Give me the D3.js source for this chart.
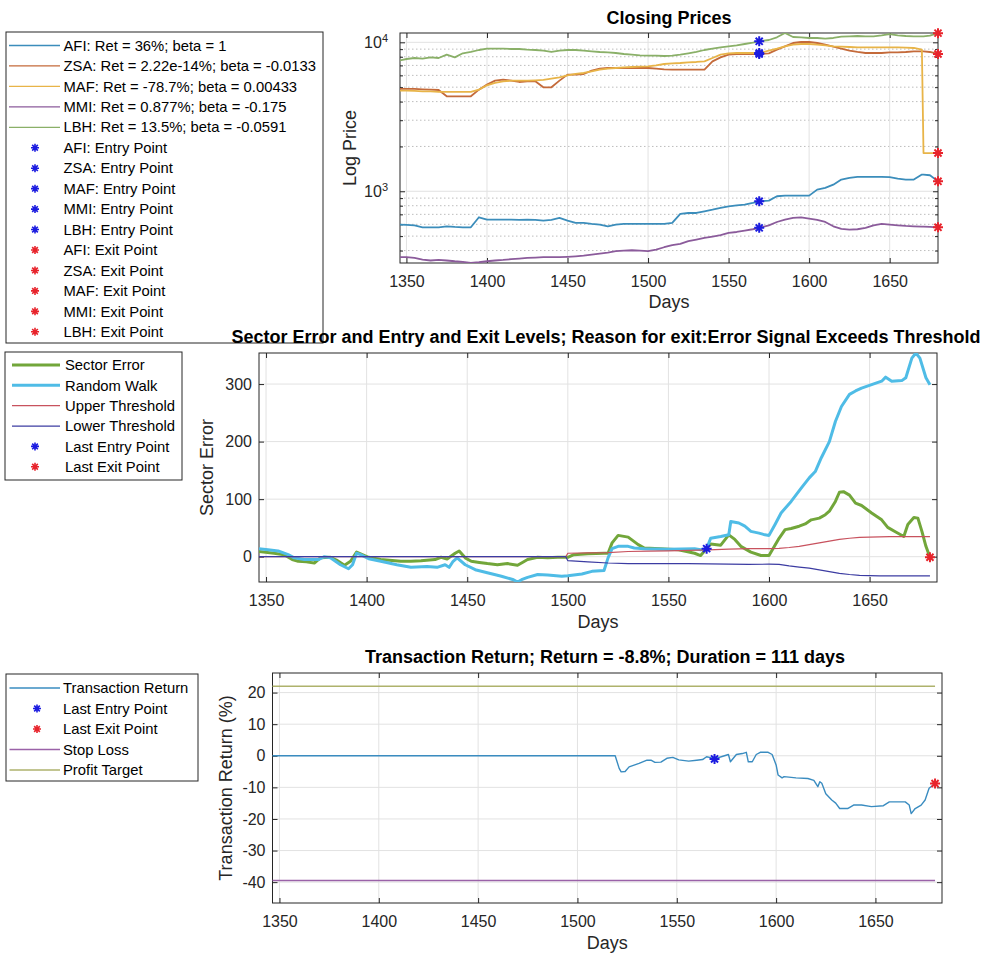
<!DOCTYPE html>
<html>
<head>
<meta charset="utf-8">
<title>Sector trade monitor</title>
<script src="https://cdn.jsdelivr.net/npm/d3@7/dist/d3.min.js"></script>
<style>
  html, body { margin: 0; padding: 0; background: #fff; }
  svg { display: block; }
</style>
</head>
<body>
<script>
// ---------- Closing prices (log scale) ----------
const priceDays = [1346,1350,1355,1360,1365,1370,1375,1380,1385,1390,
  1395,1400,1405,1410,1415,1420,1425,1430,1435,1440,
  1445,1450,1455,1460,1465,1470,1475,1480,1485,1490,
  1495,1500,1505,1510,1515,1520,1525,1530,1535,1540,
  1545,1550,1555,1560,1565,1569,1575,1580,1585,1590,
  1595,1600,1605,1610,1615,1620,1625,1630,1635,1640,
  1645,1650,1655,1660,1665,1670,1671,1675,1680];
const afiPrice = [597,594,591,573,573,573,582,576,573,573,
  669,645,645,645,645,642,645,642,636,642,
  662,636,613,613,604,597,582,597,604,604,
  604,604,604,604,613,705,715,715,734,752,
  773,793,805,813,835,857,866,926,935,935,
  935,935,1026,1053,1108,1198,1229,1248,1248,1248,
  1248,1243,1216,1198,1198,1294,1294,1281,1166];
const zsaPrice = [4862,4862,4862,4837,4812,4787,4341,4341,4341,4341,
  4812,5199,5530,5617,5530,5417,5473,5473,4989,4989,
  5530,6067,6067,6130,6454,6657,6726,6726,6726,6726,
  6726,6726,6657,6589,6555,6555,6555,6555,6555,7454,
  7930,8264,8350,8350,8350,8350,8437,8928,9401,9897,
  10051,10051,9897,9645,9352,9068,8793,8613,8480,8480,
  8480,8569,8569,8613,8702,8702,8702,8613,8350];
const mafPrice = [4738,4738,4714,4690,4690,4642,4642,4642,4642,4642,
  4812,5145,5335,5473,5530,5530,5530,5559,5588,5706,
  5822,6003,6130,6225,6388,6555,6657,6726,6795,6830,
  6865,6901,7005,7154,7228,7265,7341,7380,7454,7849,
  8264,8437,8480,8480,8480,8480,8793,9068,9401,9645,
  9745,9745,9645,9547,9401,9352,9305,9257,9257,9257,
  9257,9257,9257,9210,9162,8928,1806,1806,1806];
const mmiPrice = [361,361,357,348,343,346,343,339,336,330,
  334,339,343,346,350,353,357,359,361,361,
  361,363,366,370,376,382,388,396,400,402,
  400,396,406,421,435,443,463,474,486,496,
  507,525,533,545,556,568,591,622,645,662,
  669,655,642,622,582,559,553,556,568,591,
  604,597,591,585,582,579,579,576,573];
const lbhPrice = [7570,7728,7849,7768,7930,7849,8264,7930,8437,8613,
  8881,9068,9068,9068,9021,9021,8928,8881,8793,8613,
  8793,8881,8881,8793,8702,8613,8569,8480,8350,8264,
  8180,8137,8137,8096,8137,8264,8437,8613,8881,9068,
  9257,9401,9547,9745,9949,10156,10368,10804,11550,10860,
  10804,10693,10693,10583,10693,10916,10973,11030,10973,10973,
  11143,11370,11143,11030,10973,10973,10973,11087,11527];
const stockNames = ['AFI', 'ZSA', 'MAF', 'MMI', 'LBH'];
const stockStats = ['Ret = 36%; beta = 1', 'Ret = 2.22e-14%; beta = -0.0133',
  'Ret = -78.7%; beta = 0.00433', 'Ret = 0.877%; beta = -0.175', 'Ret = 13.5%; beta = -0.0591'];
const stockColors = ['#3b8dbb', '#c46a3a', '#e8b448', '#8b5b9b', '#8ab068'];
const entryDay = 1569;
const exitDay = 1680;

// ---------- Sector error, random walk and thresholds ----------
const errDays = [1346,1354,1359,1363,1366,1370,1374,1377,1382,1385,
  1389,1392,1395,1401,1407,1417,1422,1427,1434,1437,
  1440,1444,1446,1449,1452,1456,1460,1465,1470,1475,
  1477,1480,1485,1490,1495,1500,1503,1510,1518,1520,
  1522,1525,1530,1535,1538,1546,1555,1563,1566,1569,
  1571,1576,1580,1583,1586,1591,1596,1600,1605,1608,
  1611,1615,1618,1621,1625,1628,1630,1633,1635,1637,
  1640,1643,1646,1651,1656,1659,1663,1667,1669,1672,
  1674,1676,1678,1680];
const sectorError = [9,6,3.5,-5,-8,-9,-11,-2,-1,-6,
  -15,-8,8,-1,-5,-8,-8,-7,-5,-1,
  -4,6,10,-2,-8,-10,-12,-14,-12,-15,
  -11,-5,-1,-2,-1,-1,3.5,5,6,6,
  24,37,34,21,15,14,12,6,2,14,
  22,20,38,30,18,8,2,2,32,47,
  49,53,57,64,67,73,79,96,112,113,
  107,93,89,76,64,51,43,35,56,68,
  67,44,18,-1];
const walkDays = [1346,1351,1356,1361,1364,1369,1376,1379,1382,1387,
  1391,1393,1395,1397,1401,1407,1415,1422,1430,1435,
  1439,1441,1443,1445,1449,1454,1460,1467,1473,1475,
  1477,1480,1485,1490,1497,1500,1507,1512,1518,1520,
  1522,1525,1530,1533,1538,1550,1563,1566,1569,1571,
  1576,1580,1581,1585,1588,1591,1595,1598,1600,1603,
  1606,1611,1616,1620,1623,1626,1630,1633,1636,1640,
  1643,1646,1651,1656,1658,1661,1666,1668,1671,1673,
  1675,1678,1680];
const randomWalk = [14,12,10,3.5,-2,-5,-5,0,-2,-14,
  -21,-14,6,3.5,-3.5,-8,-14,-18.5,-17,-18.5,
  -14,-18.5,-8,-2,-14,-22.6,-28,-34,-40,-44,
  -40,-36,-31,-32,-34,-33,-30,-25.5,-24,-2,
  14,18,18,15,14,13,14,12,14,32,
  35,38,61,58.5,53,44,41,38,37,56,
  76,96,119,137,148,172,200,235,261,282,
  288,293,299,305,312,305,306,311,345,354,
  345,311,299];
const thrDays = [1346,1499,1500,1510,1520,1530,1540,1550,1560,1570,
  1580,1590,1600,1605,1610,1615,1620,1625,1630,1635,
  1640,1645,1650,1655,1660,1670,1680];
const upperThreshold = [0,0,6,6.5,7,9,9.5,10,11,12,
  13,14,14,14.5,16,18,21,24,27,30,
  32,33.5,34,34.5,35,35,35];
const lowerThreshold = [0,0,-7,-9,-11,-12,-12,-12,-12,-12.5,
  -13,-13.5,-13,-13.5,-16,-18,-20,-23,-26,-29,
  -31,-32.5,-33,-33.5,-33.5,-33.5,-33.5];

// ---------- Transaction return ----------
const retDays = [1346,1519,1521,1522,1524,1526,1531,1535,1537,1539,
  1542,1545,1548,1551,1556,1560,1563,1565,1567,1569,
  1574,1576,1577,1580,1583,1585,1586,1588,1590,1592,
  1596,1598,1600,1601,1603,1604,1610,1616,1619,1621,
  1622,1623,1625,1628,1630,1632,1636,1639,1643,1648,
  1654,1657,1665,1667,1668,1670,1673,1675,1677,1680];
const txReturn = [0,0,-4,-5.1,-5,-3.5,-2.4,-1.4,-1.4,-2.1,
  -2,-0.8,-0.5,-1.3,-1.7,-1.4,-1.2,-0.3,-0.6,-1.0,
  0,0.4,-1.9,0.4,0.7,1.1,-1.9,-1.9,0.4,1.1,
  1.1,0.4,-2.9,-6.1,-7,-6.6,-7,-7.2,-7.8,-9.8,
  -8.2,-8.7,-12,-14,-15,-16.7,-16.7,-15.6,-15.6,-16.1,
  -15.8,-14.6,-14.6,-15.6,-18.3,-16.7,-15.6,-14,-10.3,-8.8];
const stopLoss = -39.5;
const profitTarget = 22;
const returnLimits = [-46.6, 26.2];

// ---------- Tick labels ----------
const dayTicks = [1350, 1400, 1450, 1500, 1550, 1600, 1650];
const errTicks = [0, 100, 200, 300];
const retTicks = [-40, -30, -20, -10, 0, 10, 20];
const priceDecades = [1000, 10000];

// ---------- Styling ----------
const FONT = '"Liberation Sans", Arial, Helvetica, sans-serif';
const INK = '#262626';
const GRID = '#e2e2e2';
const BLUE_STAR = '#1c1ce0';
const RED_STAR = '#e8242c';

const svg = d3.select('body').append('svg')
  .attr('width', 983).attr('height', 956)
  .attr('font-family', FONT);

// MATLAB-style asterisk marker: a plus and a cross
function starPath(r) {
  const d = r * Math.SQRT1_2;
  return `M${-r},0H${r}M0,${-r}V${r}M${-d},${-d}L${d},${d}M${-d},${d}L${d},${-d}`;
}

function valueAt(days, vals, day) {
  return vals[days.indexOf(day)];
}

let clipCount = 0;

// grid, ticks on all four sides, labels and the frame of one axes
function drawAxes(x, y, xTicks, yTicks, opts) {
  const g = svg.append('g');
  const [xa, xb] = x.range();
  const [yb, ya] = y.range();

  if (opts.minorY) {
    g.append('g').selectAll('line').data(opts.minorY).join('line')
      .attr('x1', xa).attr('x2', xb)
      .attr('y1', d => y(d)).attr('y2', d => y(d))
      .attr('stroke', '#bdbdbd').attr('stroke-width', 1)
      .attr('stroke-dasharray', '1.5,2.5');
  }
  g.append('g').selectAll('line').data(xTicks).join('line')
    .attr('x1', d => x(d)).attr('x2', d => x(d))
    .attr('y1', ya).attr('y2', yb)
    .attr('stroke', GRID).attr('stroke-width', 1);
  g.append('g').selectAll('line').data(yTicks).join('line')
    .attr('x1', xa).attr('x2', xb)
    .attr('y1', d => y(d)).attr('y2', d => y(d))
    .attr('stroke', GRID).attr('stroke-width', 1);

  const fmt = opts.yFormat || (d => String(d));
  const axes = [
    g.append('g').attr('transform', `translate(0,${yb})`)
      .call(d3.axisBottom(x).tickValues(xTicks).tickSize(-5).tickPadding(13).tickFormat(d => String(d))),
    g.append('g').attr('transform', `translate(0,${ya})`)
      .call(d3.axisTop(x).tickValues(xTicks).tickSize(-5).tickFormat('')),
    g.append('g').attr('class', 'yleft').attr('transform', `translate(${xa},0)`)
      .call(d3.axisLeft(y).tickValues(yTicks).tickSize(-5).tickPadding(7).tickFormat(fmt)),
    g.append('g').attr('transform', `translate(${xb},0)`)
      .call(d3.axisRight(y).tickValues(yTicks).tickSize(-5).tickFormat(''))
  ];
  if (opts.minorY) {
    axes.push(g.append('g').attr('transform', `translate(${xa},0)`)
      .call(d3.axisLeft(y).tickValues(opts.minorY).tickSize(-3).tickFormat('')));
    axes.push(g.append('g').attr('transform', `translate(${xb},0)`)
      .call(d3.axisRight(y).tickValues(opts.minorY).tickSize(-3).tickFormat('')));
  }
  axes.forEach(a => {
    a.attr('font-family', FONT).attr('font-size', 16);
    a.select('.domain').remove();
    a.selectAll('line').attr('stroke', INK);
    a.selectAll('text').attr('fill', INK);
  });

  g.append('rect')
    .attr('x', xa).attr('y', ya).attr('width', xb - xa).attr('height', yb - ya)
    .attr('fill', 'none').attr('stroke', INK).attr('stroke-width', 1);

  const id = 'clip' + (clipCount++);
  svg.append('clipPath').attr('id', id).append('rect')
    .attr('x', xa).attr('y', ya).attr('width', xb - xa).attr('height', yb - ya);

  // title and axis labels
  const cx = (xa + xb) / 2;
  svg.append('text').attr('x', opts.titleX || cx).attr('y', opts.titleY)
    .attr('text-anchor', 'middle').attr('font-size', 18).attr('font-weight', 'bold')
    .attr('fill', '#000').text(opts.title);
  svg.append('text').attr('x', cx).attr('y', opts.xLabelY)
    .attr('text-anchor', 'middle').attr('font-size', 18).attr('fill', INK).text('Days');
  svg.append('text')
    .attr('transform', `translate(${opts.yLabelX},${(ya + yb) / 2}) rotate(-90)`)
    .attr('dy', '0.35em').attr('text-anchor', 'middle')
    .attr('font-size', 18).attr('fill', INK).text(opts.yLabel);

  return { g, clip: `url(#${id})` };
}

function drawLine(clip, x, y, days, vals, color, width) {
  svg.append('path')
    .datum(days.map((d, i) => [d, vals[i]]))
    .attr('clip-path', clip)
    .attr('fill', 'none').attr('stroke', color).attr('stroke-width', width)
    .attr('stroke-linejoin', 'round')
    .attr('d', d3.line().x(d => x(d[0])).y(d => y(d[1])));
}

function drawStar(cx, cy, color, r, w) {
  svg.append('path').attr('d', starPath(r))
    .attr('transform', `translate(${cx},${cy})`)
    .attr('fill', 'none').attr('stroke', color).attr('stroke-width', w);
}

function drawLegend(box, rowY, rowStep, items, lineX, textX, starX) {
  const g = svg.append('g');
  g.append('rect').attr('x', box[0]).attr('y', box[1])
    .attr('width', box[2] - box[0]).attr('height', box[3] - box[1])
    .attr('fill', '#fff').attr('stroke', INK).attr('stroke-width', 1);
  items.forEach((it, i) => {
    const cy = rowY + i * rowStep;
    if (it.star) {
      g.append('path').attr('d', starPath(4))
        .attr('transform', `translate(${starX},${cy})`)
        .attr('fill', 'none').attr('stroke', it.color).attr('stroke-width', 1.6);
    } else {
      g.append('line').attr('x1', lineX[0]).attr('x2', lineX[1])
        .attr('y1', cy).attr('y2', cy)
        .attr('stroke', it.color).attr('stroke-width', it.width);
    }
    g.append('text').attr('x', textX).attr('y', cy).attr('dy', '0.35em')
      .attr('font-size', 14.8).attr('fill', '#000').text(it.label);
  });
}

// ================= Panel 1: closing prices =================
const priceSeries = [afiPrice, zsaPrice, mafPrice, mmiPrice, lbhPrice];
const xP = d3.scaleLinear().domain([1346, 1680]).range([400, 938]);
const yP = d3.scaleLog().domain(d3.extent(priceSeries.flat())).range([263, 33]);
const minorPrice = yP.ticks().filter(t => !priceDecades.includes(t));

const p1 = drawAxes(xP, yP, dayTicks, priceDecades, {
  minorY: minorPrice,
  yFormat: () => '10',
  title: 'Closing Prices', titleY: 24,
  xLabelY: 308, yLabel: 'Log Price', yLabelX: 350
});
// decade labels as 10 with a superscript exponent
p1.g.select('.yleft').selectAll('.tick text')
  .attr('x', -12)
  .each(function (d) {
    d3.select(this).append('tspan')
      .attr('dy', '-0.55em').attr('font-size', 11)
      .text(String(Math.round(Math.log10(d))));
  });

priceSeries.forEach((vals, i) => drawLine(p1.clip, xP, yP, priceDays, vals, stockColors[i], 1.8));
priceSeries.forEach(vals => drawStar(xP(entryDay), yP(valueAt(priceDays, vals, entryDay)), BLUE_STAR, 5, 2));
priceSeries.forEach(vals => drawStar(xP(exitDay), yP(valueAt(priceDays, vals, exitDay)), RED_STAR, 5, 2));

drawLegend([6, 32, 323, 343], 45.5, 20.45, [
  ...stockNames.map((s, i) => ({ label: `${s}: ${stockStats[i]}`, color: stockColors[i], width: 1.3 })),
  ...stockNames.map(s => ({ label: `${s}: Entry Point`, color: BLUE_STAR, star: true })),
  ...stockNames.map(s => ({ label: `${s}: Exit Point`, color: RED_STAR, star: true }))
], [9, 60], 63.5, 35);

// ================= Panel 2: sector error =================
const errColors = { se: '#72a63a', rw: '#4fbce6', up: '#c8525e', lo: '#3c3ca2' };
const xE = d3.scaleLinear().domain([1346.5, 1683.5]).range([259, 937]);
const yE = d3.scaleLinear()
  .domain(d3.extent([...sectorError, ...randomWalk, ...upperThreshold, ...lowerThreshold]))
  .range([582, 353]);

const p2 = drawAxes(xE, yE, dayTicks, errTicks, {
  title: 'Sector Error and Entry and Exit Levels; Reason for exit:Error Signal Exceeds Threshold',
  titleX: 606, titleY: 343, xLabelY: 628, yLabel: 'Sector Error', yLabelX: 207
});
drawLine(p2.clip, xE, yE, errDays, sectorError, errColors.se, 3);
drawLine(p2.clip, xE, yE, walkDays, randomWalk, errColors.rw, 3);
drawLine(p2.clip, xE, yE, thrDays, upperThreshold, errColors.up, 1.2);
drawLine(p2.clip, xE, yE, thrDays, lowerThreshold, errColors.lo, 1.2);
drawStar(xE(entryDay), yE(valueAt(errDays, sectorError, entryDay)), BLUE_STAR, 5, 2);
drawStar(xE(exitDay), yE(valueAt(errDays, sectorError, exitDay)), RED_STAR, 5, 2);

drawLegend([5, 352, 182, 480], 365, 20.35, [
  { label: 'Sector Error', color: errColors.se, width: 3 },
  { label: 'Random Walk', color: errColors.rw, width: 3 },
  { label: 'Upper Threshold', color: errColors.up, width: 1.2 },
  { label: 'Lower Threshold', color: errColors.lo, width: 1.2 },
  { label: 'Last Entry Point', color: BLUE_STAR, star: true },
  { label: 'Last Exit Point', color: RED_STAR, star: true }
], [12, 60], 65, 35);

// ================= Panel 3: transaction return =================
const retColors = { tr: '#3a8cc0', sl: '#9a62a8', pt: '#aeb26c' };
const xR = d3.scaleLinear().domain([1346.5, 1683.5]).range([272.5, 942]);
const yR = d3.scaleLinear().domain(returnLimits).range([903, 673]);

const p3 = drawAxes(xR, yR, dayTicks, retTicks, {
  title: 'Transaction Return; Return = -8.8%; Duration = 111 days',
  titleX: 605, titleY: 663, xLabelY: 949, yLabel: 'Transaction Return (%)', yLabelX: 226
});
const spanDays = [retDays[0], retDays[retDays.length - 1]];
drawLine(p3.clip, xR, yR, retDays, txReturn, retColors.tr, 1.4);
drawLine(p3.clip, xR, yR, spanDays, [stopLoss, stopLoss], retColors.sl, 1.6);
drawLine(p3.clip, xR, yR, spanDays, [profitTarget, profitTarget], retColors.pt, 1.6);
drawStar(xR(entryDay), yR(valueAt(retDays, txReturn, entryDay)), BLUE_STAR, 5, 2);
drawStar(xR(exitDay), yR(valueAt(retDays, txReturn, exitDay)), RED_STAR, 5, 2);

drawLegend([6, 674, 198, 781], 688, 20.5, [
  { label: 'Transaction Return', color: retColors.tr, width: 1.4 },
  { label: 'Last Entry Point', color: BLUE_STAR, star: true },
  { label: 'Last Exit Point', color: RED_STAR, star: true },
  { label: 'Stop Loss', color: retColors.sl, width: 1.6 },
  { label: 'Profit Target', color: retColors.pt, width: 1.6 }
], [9.5, 60], 63, 37);
</script>
</body>
</html>
